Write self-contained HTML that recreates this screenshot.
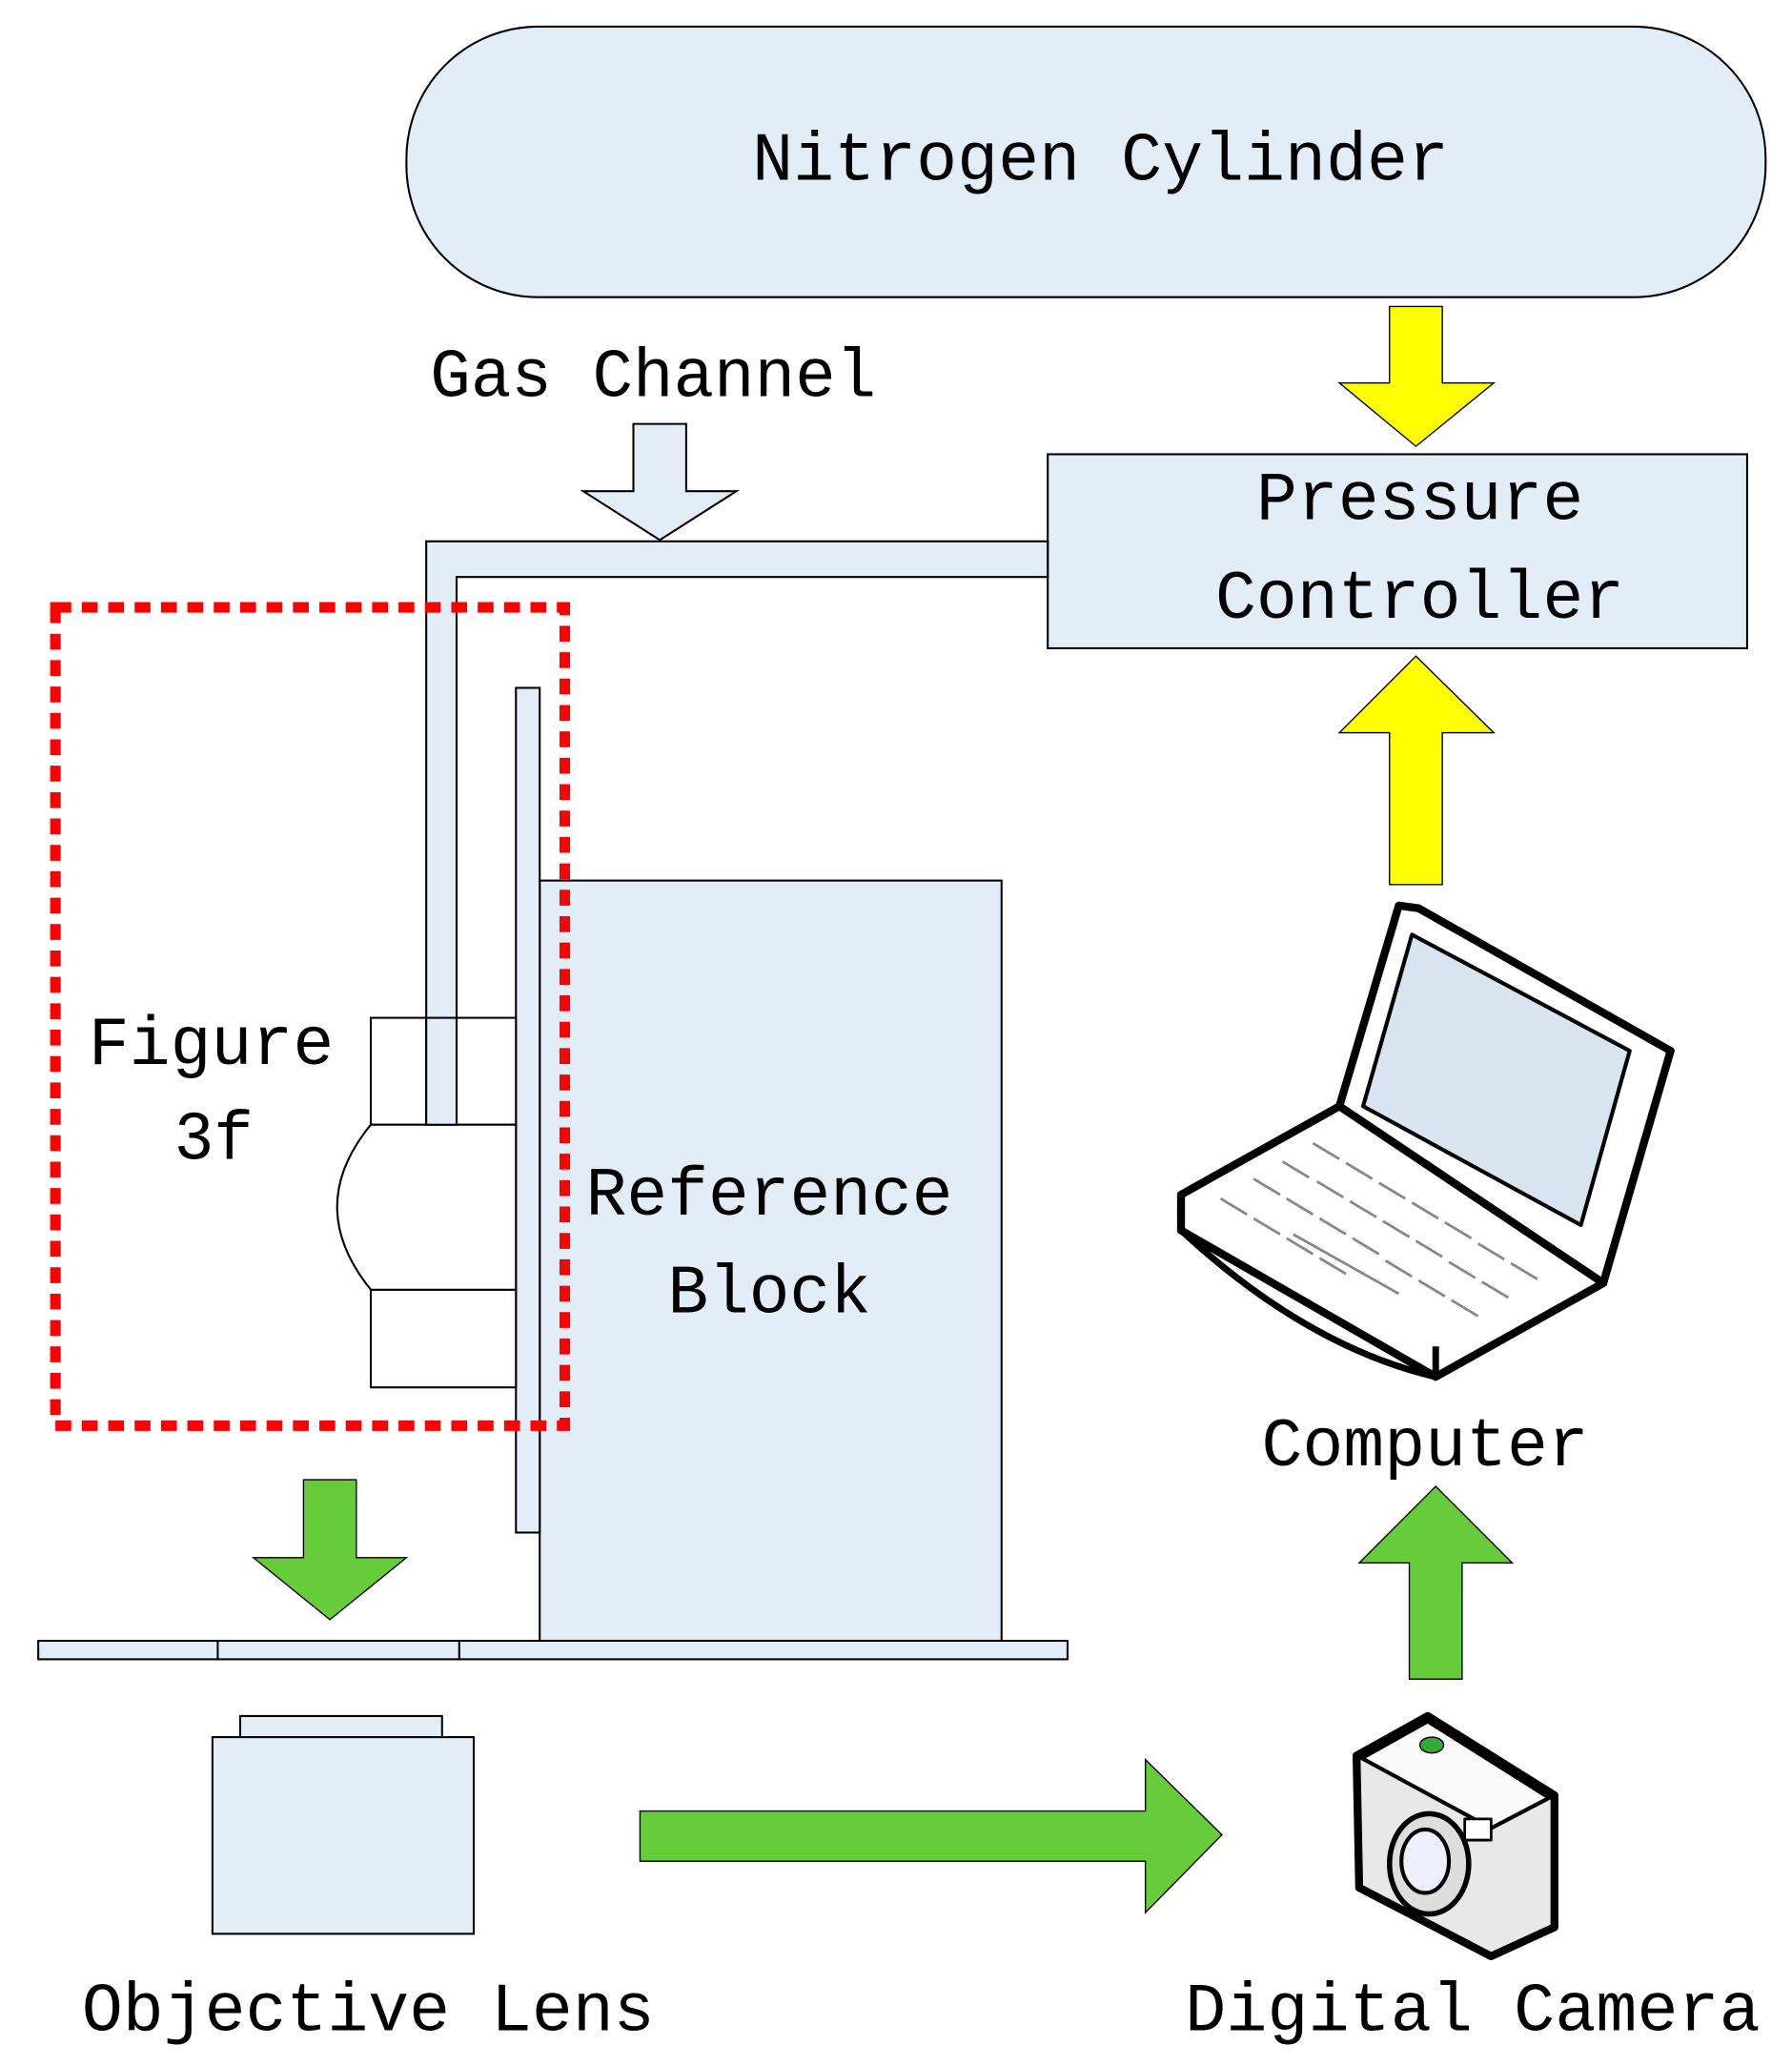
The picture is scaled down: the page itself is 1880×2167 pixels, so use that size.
<!DOCTYPE html>
<html><head><meta charset="utf-8"><style>
html,body{margin:0;padding:0;background:#fff;}
svg{display:block}
text{font-family:"Liberation Mono","DejaVu Sans Mono",monospace;fill:#000}
</style></head><body>
<svg width="1880" height="2167" viewBox="0 0 1358 1565" xmlns="http://www.w3.org/2000/svg">
<g stroke="#000" stroke-width="1.5" fill="#e3edf8">
<rect x="308" y="20" width="1030" height="205" rx="100" ry="100"/>
<rect x="794" y="344" width="530" height="147"/>
<polygon points="480,321 520,321 520,372 558,372 500,409 442,372 480,372"/>
<polygon points="323,410 794,410 794,437 346,437 346,852 323,852"/>
<rect x="409" y="667" width="350" height="576"/>
<rect x="391" y="521" width="18" height="640"/>
<rect x="29" y="1243" width="780" height="14"/>
<line x1="165" y1="1243" x2="165" y2="1257"/>
<line x1="348" y1="1243" x2="348" y2="1257"/>
<rect x="182" y="1300" width="153" height="16"/>
<rect x="161" y="1316" width="198" height="149"/>
</g>
<g stroke="#000" stroke-width="1.5" fill="#fff">
<rect x="281" y="771" width="42" height="81"/>
<rect x="346" y="771" width="45" height="81"/>
<rect x="281" y="977" width="110" height="74"/>
<path d="M391,852 L281,852 Q230,914 281,977 L391,977 Z"/>
</g>
<rect x="323" y="771" width="23" height="81" fill="#e3edf8" stroke="#000" stroke-width="1.5"/>
<rect x="42" y="460" width="386" height="620" fill="none" stroke="#f00" stroke-width="8" stroke-dasharray="12,8"/>
<g stroke="#000" stroke-width="1" fill="#ffff00">
<polygon points="1053,232 1093,232 1093,290 1132,290 1073,338 1015,290 1053,290"/>
<polygon points="1073,497 1132,555 1093,555 1093,670 1053,670 1053,555 1015,555"/>
</g>
<g stroke="#000" stroke-width="1" fill="#66cc3a">
<polygon points="230,1121 270,1121 270,1180 308,1180 250,1227 192,1180 230,1180"/>
<polygon points="485,1372 868,1372 868,1333 926,1390 868,1449 868,1410 485,1410"/>
<polygon points="1088,1126 1146,1184 1108,1184 1108,1272 1068,1272 1068,1184 1030,1184"/>
</g>
<!-- laptop -->
<g stroke="#000" stroke-linejoin="round">
<polygon points="1060,686 1075,688 1266,796 1215,972 1015,838" fill="#fff" stroke-width="6"/>
<polygon points="1070,708 1235,796 1198,928 1033,838" fill="#d8e4f0" stroke-width="3"/>
<polygon points="895,905 1015,838 1215,972 1088,1043 895,932" fill="#fff" stroke-width="6"/>
<path d="M895,932 Q990,1020 1088,1043 L1088,1020" fill="none" stroke-width="5"/>
</g>
<g stroke="#888" stroke-width="2" fill="none">
<path d="M925,908 l20,12 M950,893 l20,12 M972,880 l20,12 M995,866 l20,12 M950,923 l20,12 M975,908 l20,12 M998,895 l20,12 M1020,881 l20,12 M975,938 l20,12 M1000,923 l20,12 M1023,910 l20,12 M1045,896 l20,12 M1000,953 l20,12 M1025,938 l20,12 M1048,925 l20,12 M1070,911 l20,12 M1050,955 l20,12 M1073,940 l20,12 M1095,926 l20,12 M1075,970 l20,12 M1098,956 l20,12 M1120,942 l20,12 M1100,985 l20,12 M1123,971 l20,12 M1145,957 l20,12 M980,935 l80,45"/>
</g>
<!-- camera -->
<g stroke="#000" stroke-linejoin="round">
<polygon points="1028,1330 1082,1300 1178,1360 1178,1460 1130,1482 1030,1430" fill="#e8e8e8" stroke-width="6"/>
<polygon points="1032,1332 1082,1304 1174,1362 1130,1385" fill="#fafafa" stroke-width="3"/>
<ellipse cx="1083" cy="1412" rx="30" ry="38" fill="#ddd" stroke-width="4"/>
<ellipse cx="1080" cy="1410" rx="18" ry="24" fill="#eef" stroke-width="3"/>
<rect x="1110" y="1378" width="20" height="16" fill="#fff" stroke-width="2"/>
<ellipse cx="1085" cy="1322" rx="9" ry="6" fill="#3a3" stroke-width="1"/>
</g>
<text x="834" y="136" font-size="52" text-anchor="middle" textLength="528" lengthAdjust="spacingAndGlyphs">Nitrogen Cylinder</text>
<text x="326" y="300" font-size="52" textLength="338" lengthAdjust="spacingAndGlyphs">Gas Channel</text>
<text x="1076" y="393" font-size="52" text-anchor="middle" textLength="248" lengthAdjust="spacingAndGlyphs">Pressure</text>
<text x="1076" y="468" font-size="52" text-anchor="middle" textLength="310" lengthAdjust="spacingAndGlyphs">Controller</text>
<text x="160" y="806" font-size="52" text-anchor="middle" textLength="186" lengthAdjust="spacingAndGlyphs">Figure</text>
<text x="162" y="878" font-size="52" text-anchor="middle" textLength="60" lengthAdjust="spacingAndGlyphs">3f</text>
<text x="583" y="920" font-size="52" text-anchor="middle" textLength="278" lengthAdjust="spacingAndGlyphs">Reference</text>
<text x="583" y="994" font-size="52" text-anchor="middle" textLength="154" lengthAdjust="spacingAndGlyphs">Block</text>
<text x="1080" y="1110" font-size="52" text-anchor="middle" textLength="248" lengthAdjust="spacingAndGlyphs">Computer</text>
<text x="62" y="1538" font-size="52" textLength="434" lengthAdjust="spacingAndGlyphs">Objective Lens</text>
<text x="898" y="1538" font-size="52" textLength="436" lengthAdjust="spacingAndGlyphs">Digital Camera</text>
</svg>
</body></html>
